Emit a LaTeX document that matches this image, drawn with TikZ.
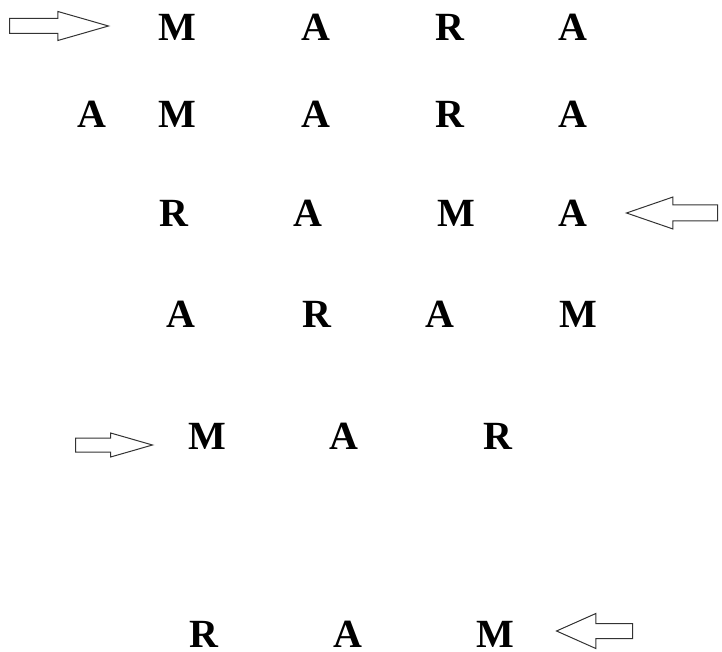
\documentclass[tikz,border=0pt]{standalone}
\usepackage{fontspec}
\setmainfont{Liberation Serif}
\usetikzlibrary{shapes.arrows}
\tikzstyle{letter} = [
		font = \fontsize{40}{48}\selectfont\bfseries,
		inner sep = 0pt,
		anchor = base
	]
\tikzstyle{pointer} = [
		single arrow,
		draw = black!80,
		line width = 1pt,
		fill = none,
		anchor = tail,
		single arrow head indent = 0pt
	]
\begin{document}
\begin{tikzpicture}[x=1pt, y=-1pt]
	\useasboundingbox (0,0) rectangle (722,652);

		%------------------------------Rows------------------------------
		\node [letter] (m1) at (177,41) {M};
		\node [letter] (a1) at (316,41) {A};
		\node [letter] (r1) at (450,41) {R};
		\node [letter] (b1) at (573,41) {A};

		\node [letter] (c2) at (92,128)  {A};
		\node [letter] (m2) at (177,128) {M};
		\node [letter] (a2) at (316,128) {A};
		\node [letter] (r2) at (450,128) {R};
		\node [letter] (b2) at (573,128) {A};

		\node [letter] (r3) at (174,227) {R};
		\node [letter] (a3) at (308,227) {A};
		\node [letter] (m3) at (456,227) {M};
		\node [letter] (b3) at (573,227) {A};

		\node [letter] (a4) at (181,327) {A};
		\node [letter] (r4) at (317,327) {R};
		\node [letter] (b4) at (440,327) {A};
		\node [letter] (m4) at (578,327) {M};

		\node [letter] (m5) at (207,449) {M};
		\node [letter] (a5) at (344,449) {A};
		\node [letter] (r5) at (498,449) {R};

		\node [letter] (r6) at (204,647) {R};
		\node [letter] (a6) at (348,647) {A};
		\node [letter] (m6) at (495,647) {M};

		%------------------------------Arrows------------------------------
		\node [pointer, inner sep=7pt, minimum height=99pt,
			single arrow head extend=7pt, single arrow tip angle=32] (p1) at (9,26) {};
		\node [pointer, shape border rotate=180, inner sep=7.5pt, minimum height=91pt,
			single arrow head extend=8pt, single arrow tip angle=38] (p3) at (718,213) {};
		\node [pointer, inner sep=6.5pt, minimum height=77pt,
			single arrow head extend=5pt, single arrow tip angle=32] (p5) at (75,445) {};
		\node [pointer, shape border rotate=180, inner sep=7pt, minimum height=76pt,
			single arrow head extend=10pt, single arrow tip angle=48] (p6) at (633,631) {};

	\end{tikzpicture}
\end{document}
